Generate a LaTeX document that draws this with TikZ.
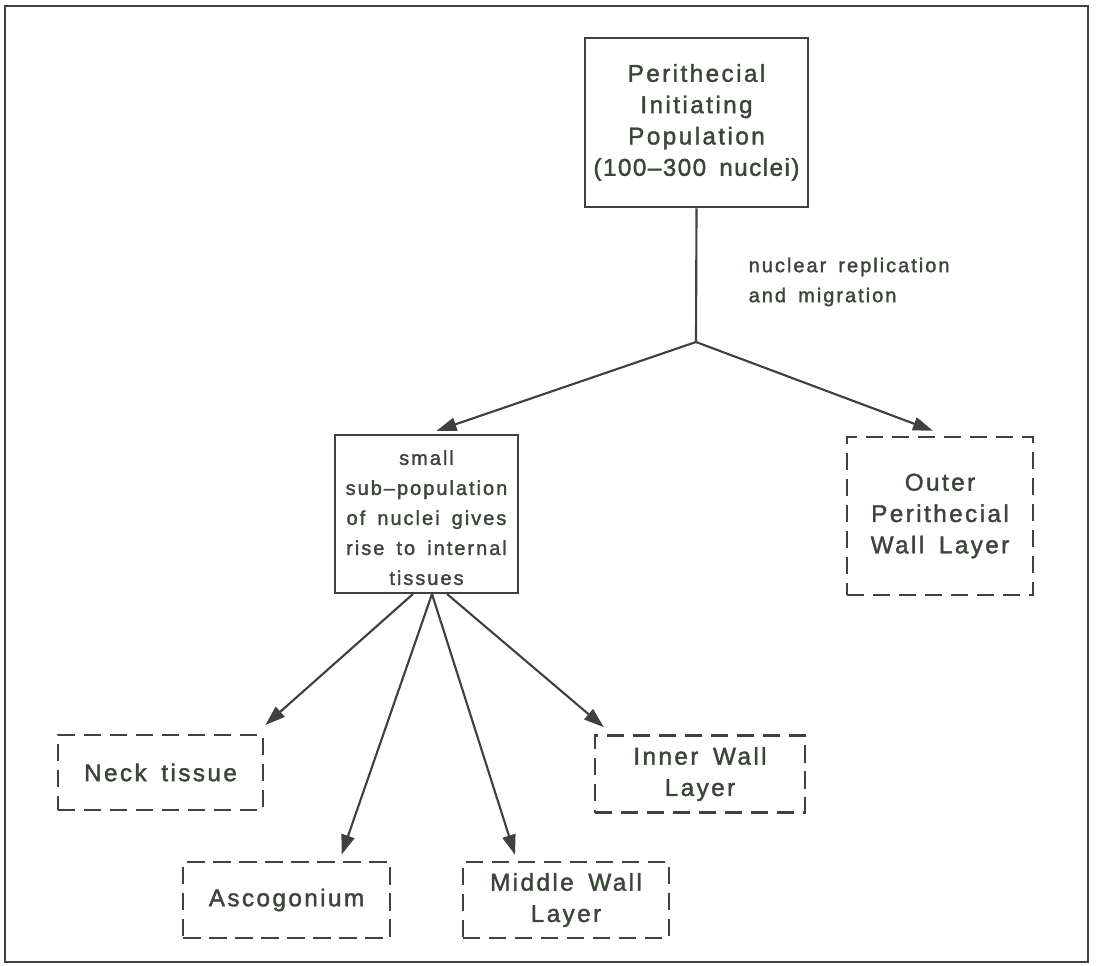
\documentclass[tikz,border=0pt]{standalone}
\usepackage{fontspec}
\setmainfont{Liberation Sans}[LetterSpace=10,WordSpace=1.6,FakeBold=1.6]
\usetikzlibrary{arrows.meta,calc}
\definecolor{ink}{RGB}{58,70,56}
\definecolor{linec}{RGB}{62,66,62}
\tikzset{
  solidbox/.style={draw=linec,line width=1.8pt,inner sep=0pt,align=center,text=ink},
  dashbox/.style={draw=linec,line width=1.8pt,dash pattern=on 13pt off 6.5pt,inner sep=0pt,align=center,text=ink},
  bigtext/.style={font=\fontsize{18.2}{23.5}\selectfont},
  smalltext/.style={font=\fontsize{15}{22.5}\selectfont},
  conn/.style={draw=linec,line width=1.6pt},
  arr/.style={conn,-{Triangle[length=15pt,width=10pt]}}
}
\begin{document}
\begin{tikzpicture}[x=0.75pt,y=-0.75pt]
\useasboundingbox (0,0) rectangle (1096,966);
\draw[draw=linec,line width=1.6pt] (5,6) rectangle (1088,962);
% nodes
\node[solidbox,bigtext,minimum width=167pt,minimum height=127pt] (top) at (696.5,122.5)
  {Perithecial\\Initiating\\Population\\{\addfontfeatures{LetterSpace=6}(100–300 nuclei)}};
\node[solidbox,smalltext,minimum width=137pt,minimum height=118.5pt] (small) at (426.5,514)
  {\\[-6pt]small\\sub–population\\of nuclei gives\\rise to internal\\tissues};
\node[dashbox,bigtext,minimum width=139.5pt,minimum height=118.5pt] (outer) at (940,516)
  {Outer\\Perithecial\\Wall Layer};
\node[dashbox,bigtext,minimum width=154pt,minimum height=56pt] (neck) at (160.5,772.5)
  {Neck tissue};
\node[dashbox,bigtext,minimum width=155pt,minimum height=57pt] (asco) at (286.5,900)
  {Ascogonium};
\node[dashbox,bigtext,minimum width=154.5pt,minimum height=57pt] (middle) at (566,900)
  {Middle Wall\\Layer};
\node[dashbox,bigtext,minimum width=157.5pt,minimum height=58pt] (inner) at (700,774)
  {Inner Wall\\Layer};
\node[smalltext,text=ink,anchor=west,align=left] (lab) at (744,282)
  {nuclear replication\\and migration};
% connectors
\coordinate (br) at (696,342);
\draw[conn] (top.south) -- (br);
\draw[arr] (br) -- ($(small.north)+(10,-3)$);
\draw[arr] (br) -- ($(outer.north)+(-7,-5)$);
\coordinate (s1) at (413,594);
\coordinate (s2) at (432,594);
\coordinate (s3) at (447,594);
\draw[arr] (s1) -- ($(neck.north east)+(1,-9)$);
\draw[arr] (s2) -- ($(asco.north)+(55,-6)$);
\draw[arr] (s2) -- ($(middle.north)+(-51,-6)$);
\draw[arr] (s3) -- ($(inner.north west)+(10,-7)$);
\end{tikzpicture}
\end{document}
